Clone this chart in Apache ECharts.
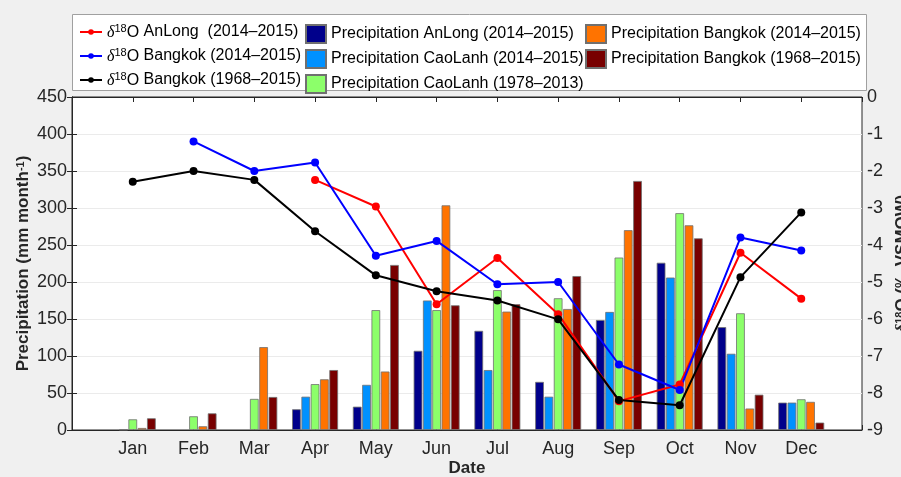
<!DOCTYPE html>
<html>
<head>
<meta charset="utf-8">
<script src="https://cdn.jsdelivr.net/npm/echarts@6/dist/echarts.min.js"></script>
<style>
  html, body { margin: 0; padding: 0; background: #f0f0f0; }
  #chart { width: 901px; height: 477px; }
</style>
</head>
<body>
<div id="chart"></div>
<script>
const months = ['Jan', 'Feb', 'Mar', 'Apr', 'May', 'Jun', 'Jul', 'Aug', 'Sep', 'Oct', 'Nov', 'Dec']

// precipitation, mm/month
const precAnLong1415 = [null, null, null, 28, 31.5, 107, 134, 65, 148.6, 226, 139, 37]
const precCaoLanh1415 = [0.5, null, null, 45, 61, 175, 81, 45, 159.5, 206, 103, 37]
const precCaoLanh7813 = [14.4, 18.5, 42, 62, 162, 162, 189, 178, 233, 293, 157.7, 41.5]
const precBangkok1415 = [2.7, 5, 112, 68.5, 79, 303.6, 160, 163.5, 270, 276.6, 29, 38]
const precBangkok6815 = [15.8, 22.5, 44.6, 81, 223, 168.5, 170, 208, 336.5, 259, 47.7, 10]

// d18O, permil VSMOW
const d18oAnLong1415 = [null, null, null, -2.24, -2.96, -5.6, -4.35, -5.87, -8.22, -7.77, -4.21, -5.45]
const d18oBangkok1415 = [null, -1.2, -2.0, -1.77, -4.29, -3.89, -5.06, -5.0, -7.23, -7.92, -3.8, -4.15]
const d18oBangkok6815 = [-2.29, -2.0, -2.24, -3.63, -4.82, -5.25, -5.5, -6.01, -8.19, -8.33, -4.87, -3.12]

const leftTicks = [0, 450, 50]
const rightTicks = [-9, 0, 1]

const font = 'Liberation Sans, Arial, sans-serif'
const toPairs = arr => arr.map((v, i) => [i + 1, v == null ? '-' : v])
const richName = s => s.replace('δ18O', '{d|δ}{s|18}{n|O}')
const supRich = {
  d: { fontSize: 16, fontStyle: 'italic', fontFamily: 'Liberation Serif, serif', verticalAlign: 'bottom' },
  s: { fontSize: 11, verticalAlign: 'top' },
  n: { fontSize: 16, verticalAlign: 'bottom' }
}

function barSeries(name, data, color) {
  return {
    name: name,
    type: 'bar',
    xAxisIndex: 0,
    yAxisIndex: 0,
    barWidth: 8.7,
    barGap: '7%',
    data: toPairs(data),
    itemStyle: { color: color, borderColor: '#707070', borderWidth: 0.8 },
    z: 2
  }
}

function lineSeries(name, data, color) {
  return {
    name: name,
    type: 'line',
    xAxisIndex: 0,
    yAxisIndex: 1,
    data: toPairs(data),
    connectNulls: false,
    symbol: 'circle',
    symbolSize: 8,
    lineStyle: { color: color, width: 2 },
    itemStyle: { color: color },
    z: 5
  }
}

const legendText = { fontFamily: font, fontSize: 16, color: '#000', lineHeight: 18, rich: supRich }

const chart = echarts.init(document.getElementById('chart'))
chart.setOption({
  animation: false,
  backgroundColor: '#f0f0f0',
  textStyle: { fontFamily: font },
  graphic: [{
    type: 'rect',
    shape: { x: 72.5, y: 14.5, width: 794, height: 76 },
    style: { fill: '#fff', stroke: '#a0a0a0', lineWidth: 1 },
    z: -1
  }],
  legend: [{
    orient: 'vertical', left: 74, top: 18, itemWidth: 22, itemHeight: 7, itemGap: 6,
    textStyle: legendText, formatter: richName, selectedMode: false,
    data: ['δ18O AnLong  (2014–2015)', 'δ18O Bangkok (2014–2015)', 'δ18O Bangkok (1968–2015)']
  }, {
    orient: 'vertical', left: 300, top: 19, itemWidth: 20, itemHeight: 18, itemGap: 5,
    icon: 'rect', textStyle: legendText, selectedMode: false,
    data: ['Precipitation AnLong (2014–2015)', 'Precipitation CaoLanh (2014–2015)', 'Precipitation CaoLanh (1978–2013)']
  }, {
    orient: 'vertical', left: 580, top: 19, itemWidth: 20, itemHeight: 18, itemGap: 5,
    icon: 'rect', textStyle: legendText, selectedMode: false,
    data: ['Precipitation Bangkok (2014–2015)', 'Precipitation Bangkok (1968–2015)']
  }],
  grid: {
    left: 72, right: 39, top: 97, bottom: 47,
    outerBoundsMode: 'none', containLabel: false,
    show: true, backgroundColor: '#fff', borderColor: '#262626', borderWidth: 1
  },
  xAxis: [{
    type: 'value', position: 'bottom', min: 0, max: 13, interval: 1,
    name: 'Date', nameLocation: 'middle', nameGap: 30, nameMoveOverlap: false,
    nameTextStyle: { fontFamily: font, fontSize: 17, fontWeight: 'bold', color: '#262626' },
    axisLine: { lineStyle: { color: '#262626' } },
    axisTick: { inside: true, length: 5, lineStyle: { color: '#262626' } },
    axisLabel: {
      margin: 10, fontSize: 18, color: '#262626', fontFamily: font,
      formatter: v => months[v - 1] || ''
    },
    splitLine: { show: false }
  }, {
    type: 'value', position: 'top', min: 0, max: 13, interval: 1,
    axisLine: { lineStyle: { color: '#262626' } },
    axisTick: { inside: true, length: 5, lineStyle: { color: '#262626' } },
    axisLabel: { show: false },
    splitLine: { show: false }
  }],
  yAxis: [{
    type: 'value', position: 'left',
    min: leftTicks[0], max: leftTicks[1], interval: leftTicks[2],
    name: 'Precipitation (mm month{s|-1})', nameLocation: 'middle', nameGap: 40, nameRotate: 90,
    nameMoveOverlap: false,
    nameTextStyle: {
      fontFamily: font, fontSize: 17, fontWeight: 'bold', color: '#262626',
      rich: { s: { fontSize: 11, fontWeight: 'bold', verticalAlign: 'top' } }
    },
    axisLine: { show: true, lineStyle: { color: '#262626' } },
    axisTick: { show: true, inside: true, length: 5, lineStyle: { color: '#262626' } },
    axisLabel: { margin: 5, fontSize: 18, color: '#262626', fontFamily: font },
    splitLine: { show: true, lineStyle: { color: '#ebebeb', width: 1 } }
  }, {
    type: 'value', position: 'right',
    min: rightTicks[0], max: rightTicks[1], interval: rightTicks[2],
    name: '{d|δ}{s|18}O (‰ VSMOW)', nameLocation: 'middle', nameGap: 32, nameRotate: 90,
    nameMoveOverlap: false,
    nameTextStyle: {
      fontFamily: font, fontSize: 17, fontWeight: 'bold', color: '#262626',
      rich: {
        d: { fontSize: 17, fontStyle: 'italic', fontFamily: 'Liberation Serif, serif', fontWeight: 'bold' },
        s: { fontSize: 11, fontWeight: 'bold', verticalAlign: 'top' }
      }
    },
    axisLine: { show: true, lineStyle: { color: '#262626' } },
    axisTick: { show: true, inside: true, length: 5, lineStyle: { color: '#262626' } },
    axisLabel: { margin: 5, fontSize: 18, color: '#262626', fontFamily: font },
    splitLine: { show: false }
  }],
  series: [
    lineSeries('δ18O AnLong  (2014–2015)', d18oAnLong1415, '#ff0000'),
    lineSeries('δ18O Bangkok (2014–2015)', d18oBangkok1415, '#0000ff'),
    lineSeries('δ18O Bangkok (1968–2015)', d18oBangkok6815, '#000000'),
    barSeries('Precipitation AnLong (2014–2015)', precAnLong1415, '#00008b'),
    barSeries('Precipitation CaoLanh (2014–2015)', precCaoLanh1415, '#0091ff'),
    barSeries('Precipitation CaoLanh (1978–2013)', precCaoLanh7813, '#8cff6a'),
    barSeries('Precipitation Bangkok (2014–2015)', precBangkok1415, '#ff7300'),
    barSeries('Precipitation Bangkok (1968–2015)', precBangkok6815, '#780000')
  ]
})
</script>
</body>
</html>
